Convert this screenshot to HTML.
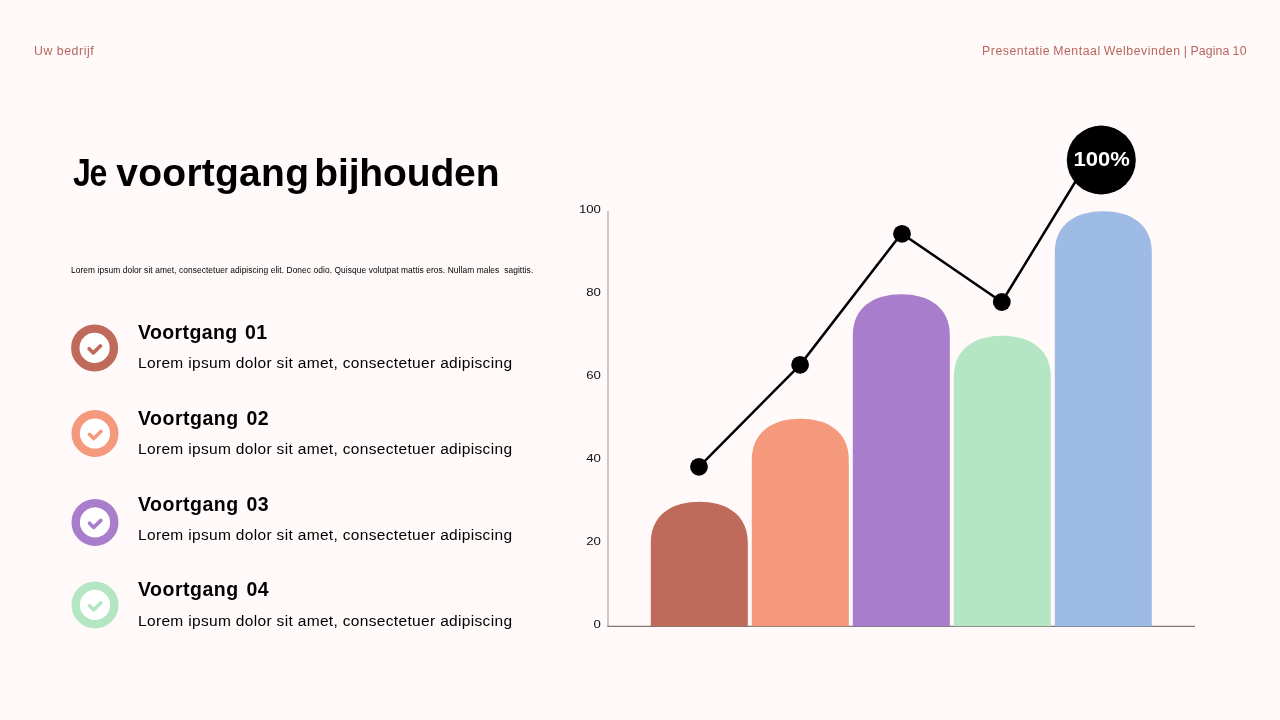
<!DOCTYPE html>
<html lang="nl">
<head>
<meta charset="utf-8">
<title>Je voortgang bijhouden</title>
<style>
html,body{margin:0;padding:0;}
body{width:1280px;height:720px;overflow:hidden;background:#fffaf9;font-family:"Liberation Sans",sans-serif;color:#000;position:relative;}
.t{position:absolute;white-space:nowrap;line-height:1;}
.hdr{font-size:12.3px;color:#b8655d;}
#h1{left:0;top:153px;width:600px;height:39px;font-size:39px;font-weight:bold;}
#h1 span{position:absolute;top:0;display:block;}
#w1{left:72.6px;letter-spacing:-1.6px;transform:scaleX(0.82);transform-origin:0 0;}
#w2{left:116.3px;letter-spacing:0.25px;}
#w3{left:314.3px;letter-spacing:-0.14px;}
#sub{left:71px;top:266.3px;font-size:8.4px;letter-spacing:0.08px;}
.it{font-size:19.5px;font-weight:bold;left:138px;letter-spacing:0.4px;}
.id{font-size:15.5px;left:138px;letter-spacing:0.33px;}
svg{position:absolute;left:0;top:0;}
</style>
</head>
<body>
<div class="t hdr" id="hl" style="left:34px;top:45px;letter-spacing:0.55px;">Uw bedrijf</div>
<div class="t hdr" id="hr" style="left:982px;top:45px;letter-spacing:0.54px;word-spacing:-0.9px;">Presentatie Mentaal Welbevinden | <span style="letter-spacing:0.1px">Pagina</span> 10</div>
<div class="t" id="h1"><span id="w1">Je</span> <span id="w2">voortgang</span> <span id="w3">bijhouden</span></div>
<div class="t" id="sub">Lorem ipsum dolor sit amet, consectetuer adipiscing elit. Donec odio. Quisque volutpat mattis eros. Nullam males&nbsp; sagittis.</div>

<div class="t it" id="t1" style="top:322.9px;word-spacing:1.6px;">Voortgang 01</div>
<div class="t id" id="d1" style="top:355.0px;">Lorem ipsum dolor sit amet, consectetuer adipiscing</div>
<div class="t it" id="t2" style="top:408.7px;word-spacing:2px;letter-spacing:0.5px;">Voortgang 02</div>
<div class="t id" id="d2" style="top:440.8px;">Lorem ipsum dolor sit amet, consectetuer adipiscing</div>
<div class="t it" id="t3" style="top:494.6px;word-spacing:2px;letter-spacing:0.5px;">Voortgang 03</div>
<div class="t id" id="d3" style="top:526.7px;">Lorem ipsum dolor sit amet, consectetuer adipiscing</div>
<div class="t it" id="t4" style="top:580.4px;word-spacing:2px;letter-spacing:0.5px;">Voortgang 04</div>
<div class="t id" id="d4" style="top:612.5px;">Lorem ipsum dolor sit amet, consectetuer adipiscing</div>

<svg width="1280" height="720" viewBox="0 0 1280 720">
  <!-- check icons -->
  <g transform="translate(94.6 347.90)" fill="none" stroke="#bf6a5b">
    <circle r="19.3" stroke-width="8.4" fill="#fff"/>
    <path d="M-5.5 0.8 L-1.3 5 L5.9 -2" stroke-width="3.6" stroke-linecap="round" stroke-linejoin="round"/>
  </g>
  <g transform="translate(95 433.50)" fill="none" stroke="#f5997d">
    <circle r="19.3" stroke-width="8.4" fill="#fff"/>
    <path d="M-5.5 0.8 L-1.3 5 L5.9 -2" stroke-width="3.6" stroke-linecap="round" stroke-linejoin="round"/>
  </g>
  <g transform="translate(95 522.40)" fill="none" stroke="#a87dcb">
    <circle r="19.3" stroke-width="8.4" fill="#fff"/>
    <path d="M-5.5 0.8 L-1.3 5 L5.9 -2" stroke-width="3.6" stroke-linecap="round" stroke-linejoin="round"/>
  </g>
  <g transform="translate(95 604.90)" fill="none" stroke="#b5e6c3">
    <circle r="19.3" stroke-width="8.4" fill="#fff"/>
    <path d="M-5.5 0.8 L-1.3 5 L5.9 -2" stroke-width="3.6" stroke-linecap="round" stroke-linejoin="round"/>
  </g>
  <!-- axes -->
  <line x1="608" y1="211" x2="608" y2="626.5" stroke="#b3adab" stroke-width="1.3"/>
  <line x1="607.3" y1="626.3" x2="1195" y2="626.3" stroke="#7d7977" stroke-width="1.3"/>
  <!-- bars -->
  <path d="M650.8 626.3 V542.8 C650.8 514.8 671.8 501.8 699.3 501.8 C726.8 501.8 747.8 514.8 747.8 542.8 V626.3 Z" fill="#bf6a5b"/>
  <path d="M751.8 626.3 V459.8 C751.8 431.8 772.8 418.8 800.3 418.8 C827.8 418.8 848.8 431.8 848.8 459.8 V626.3 Z" fill="#f5997d"/>
  <path d="M852.8 626.3 V335.3 C852.8 307.3 873.8 294.3 901.3 294.3 C928.8 294.3 949.8 307.3 949.8 335.3 V626.3 Z" fill="#a87dcb"/>
  <path d="M953.8 626.3 V376.8 C953.8 348.8 974.8 335.8 1002.3 335.8 C1029.8 335.8 1050.8 348.8 1050.8 376.8 V626.3 Z" fill="#b5e6c3"/>
  <path d="M1054.8 626.3 V252.3 C1054.8 224.3 1075.8 211.3 1103.3 211.3 C1130.8 211.3 1151.8 224.3 1151.8 252.3 V626.3 Z" fill="#9dbbe5"/>
  <!-- line -->
  <polyline points="699,466.8 800.1,364.8 901.6,233.4 1001.8,302 1085,166" fill="none" stroke="#000" stroke-width="2.5"/>
  <circle cx="699" cy="466.8" r="8.9"/>
  <circle cx="800.1" cy="364.8" r="8.9"/>
  <circle cx="902" cy="233.800" r="8.9"/>
  <circle cx="1001.8" cy="302" r="8.9"/>
  <circle cx="1101.300" cy="160" r="34.500"/>
  <g font-family="'Liberation Sans',sans-serif" font-size="11" fill="#111" text-anchor="end">
    <text id="a100" transform="translate(600.9 212.5) scale(1.2 1)">100</text>
    <text id="a80" transform="translate(600.9 295.5) scale(1.2 1)">80</text>
    <text id="a60" transform="translate(600.9 378.5) scale(1.2 1)">60</text>
    <text id="a40" transform="translate(600.9 461.5) scale(1.2 1)">40</text>
    <text id="a20" transform="translate(600.9 544.5) scale(1.2 1)">20</text>
    <text id="a0" transform="translate(600.9 627.5) scale(1.2 1)">0</text>
  </g>
  <text id="pct" x="1073.6" y="165.7" font-family="'Liberation Sans',sans-serif" font-size="19.4" font-weight="bold" fill="#fff" textLength="56.4" lengthAdjust="spacingAndGlyphs">100%</text>
</svg>
</body>
</html>
